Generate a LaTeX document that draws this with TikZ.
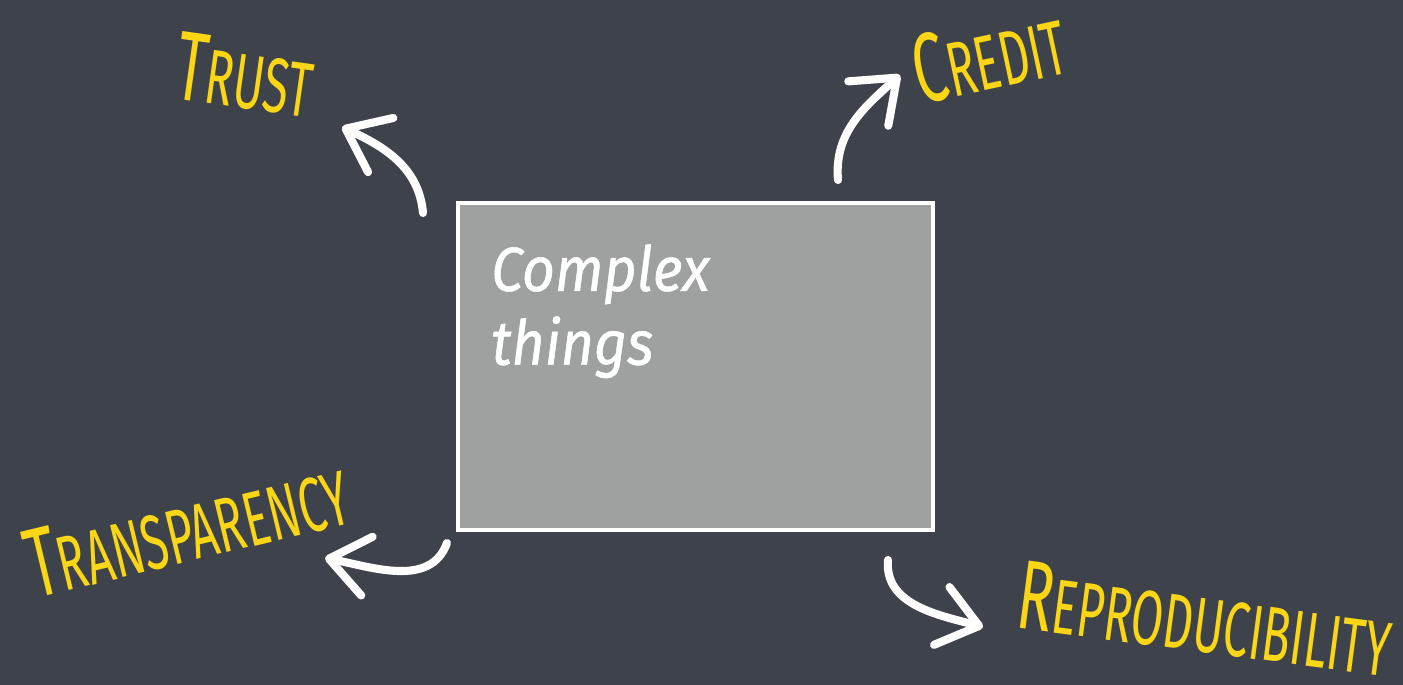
\documentclass[tikz,border=0pt]{standalone}
\usepackage{fontspec}
\setmainfont{Fira Sans}
\newfontfamily\handfont[FakeStretch=0.6]{Fira Sans}
\newfontfamily\boxfont[FakeStretch=0.92,FakeBold=0.8]{Fira Sans}
\usetikzlibrary{positioning, arrows.meta}
\definecolor{slate}{RGB}{62,67,75}
\definecolor{boxgrey}{RGB}{158,161,159}
\definecolor{marker}{RGB}{250,214,20}
\newcommand{\smallcapword}[2]{{\fontsize{28}{28}\selectfont #1}{\fontsize{22}{22}\selectfont #2}}

\begin{document}
\begin{tikzpicture}[
	word/.style={text=marker,font=\handfont,inner sep=0pt},
	chalk/.style={draw=white,line width=2.3pt,line cap=round,-{Straight Barb[length=11pt,width=17pt,round]}}
]
	\fill[slate] (0,0) rectangle (14.03,6.85);
	\useasboundingbox (0,0) rectangle (14.03,6.85);

	\node (box) at (6.955,3.185) [fill=boxgrey,draw=white,line width=1.4pt,minimum width=4.75cm,minimum height=3.27cm] {};
	\node (boxtext) [below right=0.43cm and 0.35cm of box.north west,inner sep=0pt,align=left,text=white,font=\boxfont\itshape\fontsize{17.7}{21}\selectfont] {Complex\\things};

	%labels
	\node (trust) at (2.45,6.10) [word,rotate=-8] {\smallcapword{T}{RUST}};
	\node (credit) at (9.89,6.30) [word,rotate=12] {\smallcapword{C}{REDIT}};
	\node (transparency) at (1.87,1.57) [word,rotate=13.5] {\smallcapword{T}{RANSPARENCY}};
	\node (reproducibility) at (12.05,0.66) [word,rotate=-7.5] {\smallcapword{R}{EPRODUCIBILITY}};

	%arrows
	\coordinate (trusttail) at (4.23,4.72);
	\coordinate (trusttip) at (3.42,5.58);
	\coordinate (credittail) at (8.38,5.05);
	\coordinate (credittip) at (9.00,6.10);
	\coordinate (transtail) at (4.47,1.42);
	\coordinate (transtip) at (3.25,1.27);
	\coordinate (reprotail) at (8.88,1.25);
	\coordinate (reprotip) at (9.83,0.58);
	\draw[chalk] (trusttail) to [out=95,in=-25] (trusttip);
	\draw[chalk] (credittail) to [out=95,in=222] (credittip);
	\draw[chalk] (transtail) to [out=250,in=-11] (transtip);
	\draw[chalk] (reprotail) to [out=265,in=165] (reprotip);
\end{tikzpicture}
\end{document}
